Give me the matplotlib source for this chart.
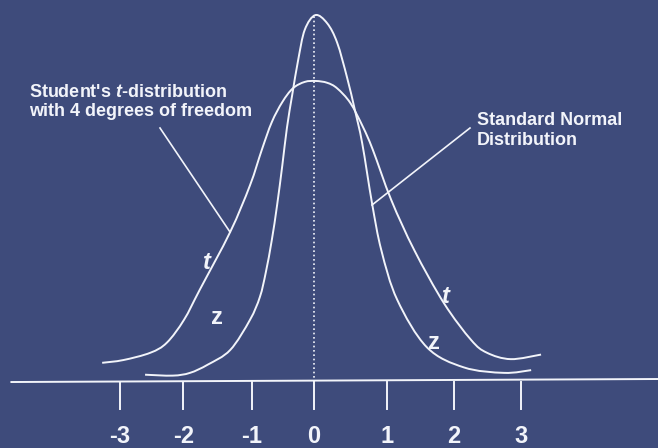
import matplotlib
matplotlib.use("Agg")
import matplotlib.pyplot as plt
from matplotlib.path import Path
from matplotlib.patches import PathPatch

plt.rcParams['font.family'] = ['Liberation Sans', 'DejaVu Sans']
plt.rcParams['mathtext.fontset'] = 'custom'
plt.rcParams['mathtext.rm'] = 'Liberation Sans:bold'
plt.rcParams['mathtext.it'] = 'Liberation Sans:italic:bold'

BG = '#3e4b7b'
FG = '#f2f4fa'

z_x = [-2.56, -2.14, -1.88, -1.61, -1.27, -0.97, -0.82, -0.73, -0.64, -0.56,
       -0.48, -0.41, -0.33, -0.24, -0.14, 0.02, 0.20, 0.35, 0.50, 0.62,
       0.73, 0.88, 1.02, 1.26, 1.71, 2.27, 2.88, 3.29]
z_y = [0.008, 0.007, 0.010, 0.019, 0.035, 0.068, 0.093, 0.120, 0.155, 0.193,
       0.237, 0.278, 0.314, 0.352, 0.385, 0.401, 0.392, 0.371, 0.333, 0.297,
       0.261, 0.195, 0.144, 0.090, 0.038, 0.016, 0.010, 0.013]

# lower, wider curve with heavier tails
t_x = [-3.21, -2.89, -2.48, -2.23, -1.97, -1.73, -1.27, -0.97, -0.79, -0.64,
       -0.48, -0.32, -0.14, 0.03, 0.20, 0.35, 0.55, 0.74, 0.89, 1.17,
       1.52, 1.97, 2.38, 2.62, 2.98, 3.44]
t_y = [0.021, 0.024, 0.032, 0.043, 0.068, 0.101, 0.164, 0.215, 0.254, 0.284,
       0.306, 0.321, 0.328, 0.329, 0.327, 0.321, 0.305, 0.279, 0.254, 0.199,
       0.144, 0.086, 0.046, 0.032, 0.025, 0.030]

tick_pos = [-2.94, -1.98, -0.94, 0.0, 1.11, 2.12, 3.14]
tick_labels = ['-3', '-2', '-1', '0', '1', '2', '3']


def smooth_path(xs, ys):
    # Catmull-Rom through the points, written as cubic Bezier segments
    pts = list(zip(xs, ys))
    verts = [pts[0]]
    codes = [Path.MOVETO]
    for i in range(len(pts) - 1):
        p0 = pts[max(i - 1, 0)]
        p1 = pts[i]
        p2 = pts[i + 1]
        p3 = pts[min(i + 2, len(pts) - 1)]
        c1 = (p1[0] + (p2[0] - p0[0]) / 6, p1[1] + (p2[1] - p0[1]) / 6)
        c2 = (p2[0] - (p3[0] - p1[0]) / 6, p2[1] - (p3[1] - p1[1]) / 6)
        verts += [c1, c2, p2]
        codes += [Path.CURVE4] * 3
    return Path(verts, codes)


fig = plt.figure(figsize=(6.58, 4.48), dpi=100, facecolor=BG)
ax = fig.add_axes([0, 0, 1, 1])
ax.set_facecolor(BG)
ax.set_xlim(-4.758, 5.212)
ax.set_ylim(-0.0721, 0.4175)
ax.axis('off')

narrow = ['Liberation Sans Narrow', 'Liberation Sans']

# horizontal axis, slightly off level like a hand-drawn slide
ax.plot([-4.6, 5.212], [0.0, 0.0033], color=FG, lw=1.4, solid_capstyle='butt')
for p, lab in zip(tick_pos, tick_labels):
    ax.plot([p, p], [0.0, -0.030], color=FG, lw=1.4)
    ax.text(p, -0.059, lab, color=FG, fontsize=17, fontweight='bold',
            ha='center', va='center', family=narrow, fontstretch='condensed')

# dotted line through the centre
ax.plot([0, 0], [0.0, 0.402], color=FG, lw=1.2, ls=(0, (1, 1.6)))

for xs, ys in [(z_x, z_y), (t_x, t_y)]:
    ax.add_patch(PathPatch(smooth_path(xs, ys), facecolor='none',
                           edgecolor=FG, lw=1.4))

# curve labels
lab_kw = dict(color=FG, fontsize=17, fontweight='bold', ha='center', va='center')
ax.text(-1.62, 0.131, 't', style='italic', **lab_kw)
ax.text(-1.47, 0.070, 'z', family=narrow, **lab_kw)
ax.text(2.00, 0.093, 't', style='italic', **lab_kw)
ax.text(1.82, 0.043, 'z', family=narrow, **lab_kw)

# annotations with leader lines
txt_kw = dict(transform=ax.transAxes, color=FG, fontsize=13,
              fontweight='bold', ha='left', va='baseline')
ax.text(29 / 658, 1 - 97 / 448, "Student's $t$-distribution", **txt_kw)
ax.text(29 / 658, 1 - 116 / 448, "with 4 degrees of freedom", **txt_kw)
ax.plot([160 / 658, 230 / 658], [1 - 128 / 448, 1 - 232 / 448],
        transform=ax.transAxes, color=FG, lw=1.2)

ax.text(477 / 658, 1 - 125 / 448, "Standard Normal", **txt_kw)
ax.text(477 / 658, 1 - 145 / 448, "Distribution", **txt_kw)
ax.plot([470 / 658, 372 / 658], [1 - 128 / 448, 1 - 205 / 448],
        transform=ax.transAxes, color=FG, lw=1.2)

fig.savefig('out.png', dpi=100, facecolor=BG)
